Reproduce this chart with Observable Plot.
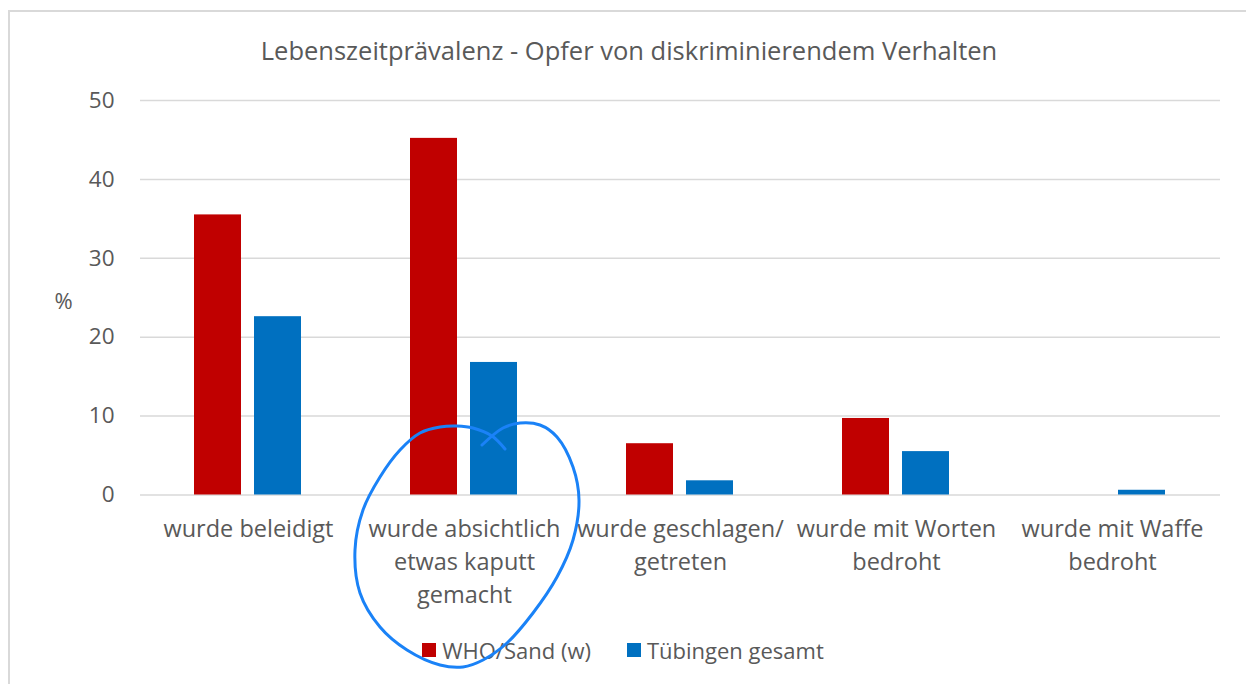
<!DOCTYPE html>
<html>
<head>
<meta charset="utf-8">
<script src="https://cdn.jsdelivr.net/npm/d3@7"></script>
<script src="https://cdn.jsdelivr.net/npm/@observablehq/plot@0.6"></script>
<style>
  html, body { margin: 0; padding: 0; background: #fff; }
  #wrap { position: relative; width: 1246px; height: 684px; overflow: hidden; font-family: "Open Sans", sans-serif; color: #595959; }
  #frame { position: absolute; left: 8px; top: 10px; width: 1300px; height: 700px; border-top: 2px solid #d9d9d9; border-left: 2px solid #d9d9d9; }
  #title { position: absolute; left: 0; width: 1258px; top: 30px; text-align: center; font-size: 25.5px; line-height: 40px; color: #595959; }
  #chart { position: absolute; left: 0; top: 90px; }
  #legend { position: absolute; left: 0; width: 1246px; top: 633px; display: flex; justify-content: center; align-items: center; font-size: 22px; line-height: 34px; }
  .item { display: flex; align-items: center; }
  .sw { width: 14px; height: 14px; margin-right: 6px; }
  #annot { position: absolute; left: 0; top: 0; pointer-events: none; }
</style>
</head>
<body>
<div id="wrap">
  <div id="frame"></div>
  <div id="title"></div>
  <div id="chart"></div>
  <div id="legend"></div>
</div>
<script>
// ---- data ----
const categories = [
  "wurde beleidigt",
  "wurde absichtlich etwas kaputt gemacht",
  "wurde geschlagen/ getreten",
  "wurde mit Worten bedroht",
  "wurde mit Waffe bedroht"
];
const tickLabels = [
  "wurde beleidigt",
  "wurde absichtlich\netwas kaputt\ngemacht",
  "wurde geschlagen/\ngetreten",
  "wurde mit Worten\nbedroht",
  "wurde mit Waffe\nbedroht"
];
const seriesNames = ["WHO/Sand (w)", "Tübingen gesamt"];
const whoSand = [35.5, 45.2, 6.5, 9.7, 0];
const tuebingen = [22.6, 16.8, 1.8, 5.5, 0.6];
const yTicks = [0, 10, 20, 30, 40, 50];
const seriesColors = ["#C00000", "#0070C0"];
const titleText = "Lebenszeitprävalenz - Opfer von diskriminierendem Verhalten";
const yLabel = "%";

// ---- table ----
const rows = [];
categories.forEach((c, i) => {
  rows.push({category: c, series: seriesNames[0], value: whoSand[i]});
  rows.push({category: c, series: seriesNames[1], value: tuebingen[i]});
});

document.getElementById("title").textContent = titleText;

const chart = Plot.plot({
  width: 1246,
  height: 540,
  marginLeft: 140,
  marginRight: 26,
  marginTop: 10,
  marginBottom: 135.5,
  style: {fontFamily: "Open Sans", fontSize: "22px", color: "#595959", background: "transparent", overflow: "visible"},
  fx: {domain: categories, padding: 0, label: null, axis: null},
  x: {domain: seriesNames, paddingInner: 0.213, paddingOuter: 0.877, axis: null},
  y: {domain: [0, 50], label: null, axis: null},
  color: {domain: seriesNames, range: seriesColors},
  marks: [
    Plot.ruleY(yTicks, {stroke: "#d9d9d9", strokeWidth: 1.5}),
    Plot.barY(rows, {fx: "category", x: "series", y: "value", fill: "series"}),
    Plot.axisY({ticks: yTicks, tickSize: 0, tickPadding: 26, fontSize: 22.5, fill: "#595959", label: null}),
    Plot.axisFx({
      anchor: "bottom", tickSize: 0, tickPadding: 19, fontSize: 23.5, fill: "#595959",
      lineHeight: 1.4, label: null,
      tickFormat: d => tickLabels[categories.indexOf(d)]
    }),
    Plot.text([yLabel], {
      fx: () => categories[0], frameAnchor: "left", dx: -86, dy: 4,
      text: d => d, fontSize: 22, fill: "#595959", textAnchor: "start",
      facetAnchor: "left"
    })
  ]
});
document.getElementById("chart").appendChild(chart);

// ---- legend ----
const legend = document.getElementById("legend");
seriesNames.forEach((s, i) => {
  const it = document.createElement("div");
  it.className = "item";
  if (i > 0) it.style.marginLeft = "36px";
  const sw = document.createElement("div");
  sw.className = "sw";
  sw.style.background = seriesColors[i];
  const tx = document.createElement("span");
  tx.textContent = s;
  it.appendChild(sw); it.appendChild(tx);
  legend.appendChild(it);
});

// ---- hand-drawn annotation (ink circle on the screenshot) ----
const inkPath = [
  [505,449],[492,436],[473,428],[457,426],[440,427],[420,433],[400,450],[380,477],
  [363,510],[355,550],[360,593],[380,627],[407,650],[440,665],[463,667],[483,660],
  [507,643],[533,613],[557,577],[573,540],[579,500],[573,467],[557,437],[540,425],
  [520,423],[503,428],[482,445]
];
const svg = d3.select("#wrap").append("svg").attr("id", "annot").attr("width", 1246).attr("height", 684);
svg.append("path")
  .attr("d", d3.line().curve(d3.curveCatmullRom)(inkPath))
  .attr("fill", "none").attr("stroke", "#1a82f7").attr("stroke-width", 3).attr("stroke-linecap", "round");
</script>
</body>
</html>
